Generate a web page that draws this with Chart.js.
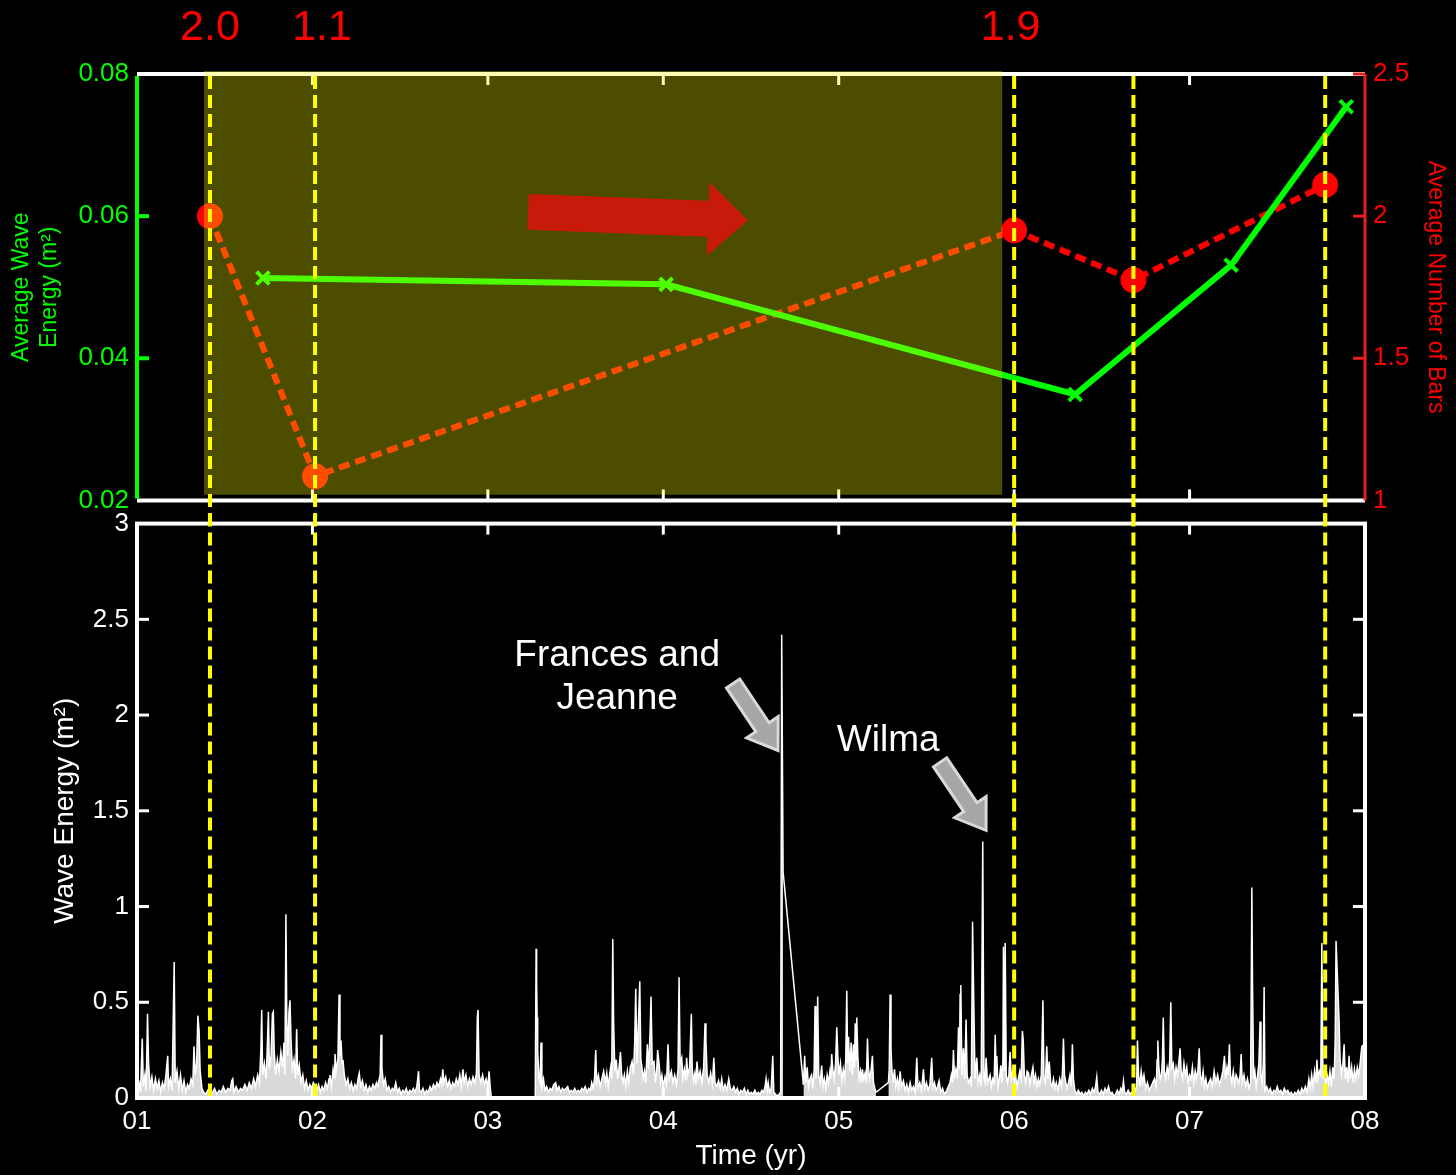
<!DOCTYPE html>
<html>
<head>
<meta charset="utf-8">
<script src="https://cdn.jsdelivr.net/npm/chart.js@4.4.0/dist/chart.umd.min.js"></script>
<style>
body{margin:0;background:#000;width:1456px;height:1175px;overflow:hidden;position:relative}
canvas{position:absolute;left:0}
#top-chart{top:0}
#wave-chart{top:500px}
</style>
</head>
<body>
<canvas id="top-chart" width="1456" height="524"></canvas>
<canvas id="wave-chart" width="1456" height="675"></canvas>
<script>
// survey dates (yr) and their averages
const surveyYears = [1.416, 2.015, 6.0, 6.68, 7.773];
const avgBars = [2.0, 1.085, 1.95, 1.775, 2.11];
const energyYears = [1.718, 4.016, 6.348, 7.237, 7.893];
const avgEnergy = [0.0513, 0.0504, 0.0349, 0.0531, 0.0754];
const barLabels = ["2.0", "1.1", "1.9"];
const barLabelYears = [1.416, 2.055, 5.98];
const shadeYears = [1.382, 5.932];
const yearTicks = [1, 2, 3, 4, 5, 6, 7, 8];
const energyTicks = [0, 0.5, 1, 1.5, 2, 2.5, 3];

// wave energy record, [year, m2]
const energy01 = [[1.000,0.05],[1.012,0.08],[1.020,0.03],[1.030,0.31],[1.036,0.06],[1.045,0.12],[1.052,0.04],[1.060,0.44],[1.066,0.18],[1.075,0.06],[1.085,0.11],[1.095,0.04],[1.105,0.10],[1.115,0.05],[1.125,0.09],[1.135,0.03],[1.145,0.08],[1.155,0.05],[1.165,0.12],[1.175,0.22],[1.180,0.06],[1.190,0.10],[1.200,0.04],[1.212,0.71],[1.218,0.08],[1.228,0.14],[1.238,0.05],[1.248,0.12],[1.258,0.04],[1.268,0.09],[1.278,0.03],[1.288,0.07],[1.298,0.05],[1.308,0.10],[1.318,0.07],[1.325,0.27],[1.332,0.12],[1.340,0.18],[1.347,0.43],[1.354,0.35],[1.360,0.14],[1.370,0.05],[1.380,0.03],[1.392,0.02],[1.404,0.04],[1.416,0.02],
  [1.430,0.03],[1.442,0.05],[1.455,0.02],[1.468,0.04],[1.480,0.03],[1.492,0.06],[1.505,0.03],[1.518,0.05],[1.530,0.04],[1.540,0.09],[1.546,0.10],[1.552,0.03],[1.565,0.06],[1.578,0.03],[1.590,0.05],[1.602,0.04],[1.615,0.07],[1.628,0.04],[1.640,0.08],[1.652,0.05],[1.665,0.10],[1.675,0.06],[1.688,0.12],[1.698,0.08],[1.706,0.25],[1.711,0.46],[1.716,0.12],[1.726,0.18],[1.736,0.10],[1.744,0.30],[1.749,0.45],[1.755,0.15],[1.764,0.22],[1.772,0.44],[1.777,0.45],[1.782,0.25],[1.790,0.12],[1.800,0.20],[1.810,0.14],[1.820,0.24],[1.830,0.16],[1.838,0.29],[1.843,0.12],[1.849,0.96],[1.854,0.40],[1.860,0.22],[1.866,0.45],[1.872,0.51],[1.878,0.30],[1.886,0.15],[1.895,0.20],[1.904,0.10],[1.910,0.36],[1.916,0.12],[1.925,0.17],[1.935,0.08],[1.945,0.12],[1.955,0.05],[1.965,0.09],[1.975,0.04],[1.985,0.07],[1.995,0.05]];
const energy02 = [[2.005,0.08],[2.015,0.06],[2.025,0.04],[2.035,0.07],[2.045,0.03],[2.055,0.06],[2.065,0.04],[2.075,0.08],[2.085,0.05],[2.095,0.10],[2.100,0.12],[2.108,0.06],[2.118,0.15],[2.126,0.10],[2.129,0.23],[2.135,0.14],[2.145,0.20],[2.152,0.54],[2.157,0.22],[2.163,0.30],[2.169,0.18],[2.174,0.20],[2.182,0.12],[2.192,0.07],[2.202,0.10],[2.212,0.05],[2.222,0.08],[2.232,0.04],[2.242,0.07],[2.252,0.05],[2.262,0.11],[2.267,0.13],[2.275,0.06],[2.285,0.09],[2.295,0.04],[2.305,0.07],[2.315,0.03],[2.325,0.06],[2.335,0.04],[2.345,0.07],[2.355,0.05],[2.365,0.08],[2.372,0.06],[2.386,0.12],[2.391,0.33],[2.396,0.16],[2.405,0.07],[2.415,0.10],[2.425,0.04],[2.435,0.06],[2.445,0.03],[2.455,0.05],[2.465,0.04],[2.475,0.08],[2.485,0.03],[2.495,0.05],[2.505,0.02],[2.515,0.04],[2.525,0.03],[2.535,0.05],[2.545,0.02],[2.555,0.04],[2.565,0.03],[2.575,0.05],[2.585,0.03],[2.595,0.06],[2.605,0.14],[2.610,0.04],[2.620,0.03],[2.630,0.05],[2.640,0.02],[2.650,0.04],[2.660,0.03],[2.670,0.06],[2.680,0.04],[2.690,0.07],[2.700,0.05],[2.710,0.08],[2.720,0.06],[2.730,0.10],[2.737,0.07],[2.743,0.15],[2.750,0.08],[2.760,0.11],[2.770,0.06],[2.780,0.09],[2.790,0.05],[2.800,0.08],[2.810,0.06],[2.820,0.10],[2.830,0.07],[2.840,0.12],[2.848,0.06],[2.858,0.15],[2.865,0.08],[2.875,0.12],[2.885,0.06],[2.895,0.10],[2.905,0.07],[2.915,0.11],[2.925,0.08],[2.935,0.13],[2.940,0.42],[2.944,0.46],[2.950,0.12],[2.960,0.08],[2.970,0.12],[2.980,0.07],[2.990,0.10]];
const energy03 = [[3.000,0.06],[3.007,0.14],[3.014,0.05],[3.020,0.00],[3.270,0.00],[3.275,0.78],[3.278,0.60],[3.281,0.42],[3.284,0.24],[3.292,0.10],[3.298,0.08],[3.303,0.29],[3.308,0.06],[3.317,0.10],[3.325,0.04],[3.335,0.06],[3.345,0.03],[3.355,0.05],[3.365,0.04],[3.375,0.07],[3.387,0.08],[3.395,0.04],[3.405,0.06],[3.415,0.03],[3.425,0.05],[3.435,0.04],[3.445,0.05],[3.455,0.06],[3.465,0.03],[3.475,0.04],[3.485,0.03],[3.495,0.05],[3.505,0.03],[3.515,0.04],[3.525,0.03],[3.535,0.05],[3.545,0.04],[3.555,0.06],[3.565,0.03],[3.575,0.05],[3.585,0.04],[3.592,0.08],[3.600,0.05],[3.608,0.10],[3.615,0.25],[3.620,0.08],[3.630,0.12],[3.640,0.06],[3.650,0.10],[3.660,0.14],[3.670,0.08],[3.678,0.13],[3.686,0.06],[3.694,0.12],[3.700,0.16],[3.706,0.10],[3.712,0.83],[3.717,0.39],[3.724,0.14],[3.732,0.20],[3.740,0.10],[3.748,0.16],[3.756,0.24],[3.762,0.13],[3.770,0.08],[3.778,0.12],[3.786,0.06],[3.795,0.14],[3.803,0.08],[3.812,0.16],[3.822,0.19],[3.830,0.12],[3.837,0.29],[3.843,0.57],[3.850,0.18],[3.858,0.39],[3.866,0.61],[3.872,0.20],[3.877,0.17],[3.885,0.10],[3.893,0.14],[3.900,0.08],[3.909,0.28],[3.916,0.15],[3.925,0.35],[3.930,0.53],[3.937,0.18],[3.947,0.19],[3.955,0.08],[3.962,0.14],[3.968,0.25],[3.976,0.18],[3.984,0.08],[3.992,0.12]];
const energy04 = [[4.000,0.06],[4.010,0.11],[4.018,0.07],[4.027,0.28],[4.034,0.10],[4.046,0.14],[4.055,0.08],[4.065,0.12],[4.075,0.07],[4.084,0.15],[4.090,0.63],[4.096,0.18],[4.105,0.21],[4.112,0.10],[4.120,0.15],[4.128,0.09],[4.133,0.21],[4.140,0.12],[4.150,0.16],[4.160,0.44],[4.165,0.15],[4.172,0.09],[4.180,0.13],[4.186,0.07],[4.192,0.19],[4.200,0.10],[4.210,0.14],[4.220,0.08],[4.230,0.16],[4.238,0.39],[4.243,0.30],[4.250,0.12],[4.260,0.08],[4.270,0.13],[4.280,0.07],[4.288,0.21],[4.295,0.08],[4.305,0.06],[4.315,0.09],[4.325,0.05],[4.333,0.10],[4.342,0.04],[4.352,0.07],[4.362,0.04],[4.373,0.10],[4.382,0.05],[4.392,0.04],[4.402,0.06],[4.412,0.03],[4.422,0.05],[4.432,0.02],[4.442,0.04],[4.452,0.03],[4.462,0.05],[4.472,0.02],[4.482,0.04],[4.492,0.02],[4.502,0.03],[4.512,0.02],[4.522,0.04],[4.532,0.02],[4.542,0.03],[4.552,0.02],[4.562,0.04],[4.572,0.03],[4.580,0.06],[4.586,0.10],[4.592,0.04],[4.598,0.08],[4.606,0.03],[4.615,0.05],[4.624,0.22],[4.630,0.03],[4.640,0.02],[4.650,0.01],[4.660,0.02],[4.669,0.03],[4.675,2.42],[4.683,1.18],[4.799,0.07],
  [4.806,0.22],[4.812,0.08],[4.820,0.16],[4.828,0.06],[4.836,0.10],[4.845,0.12],[4.852,0.05],[4.860,0.15],[4.865,0.48],[4.870,0.10],[4.876,0.20],[4.880,0.53],[4.886,0.12],[4.894,0.08],[4.903,0.17],[4.910,0.06],[4.918,0.10],[4.926,0.05],[4.934,0.12],[4.942,0.08],[4.950,0.14],[4.955,0.10],[4.960,0.23],[4.966,0.15],[4.974,0.10],[4.982,0.18],[4.989,0.37],[4.995,0.22]];
const energy05 = [[5.002,0.12],[5.010,0.18],[5.018,0.09],[5.026,0.15],[5.034,0.10],[5.040,0.20],[5.046,0.56],[5.051,0.18],[5.056,0.32],[5.063,0.14],[5.071,0.29],[5.078,0.12],[5.084,0.28],[5.090,0.16],[5.094,0.39],[5.099,0.20],[5.103,0.42],[5.109,0.22],[5.116,0.10],[5.124,0.14],[5.130,0.08],[5.135,0.15],[5.142,0.10],[5.150,0.13],[5.157,0.08],[5.164,0.31],[5.169,0.16],[5.176,0.10],[5.184,0.14],[5.192,0.22],[5.198,0.08],[5.206,0.05],[5.213,0.03],[5.283,0.08],[5.288,0.15],[5.293,0.54],[5.298,0.26],[5.303,0.15],[5.310,0.08],[5.318,0.15],[5.326,0.06],[5.334,0.10],[5.342,0.05],[5.350,0.14],[5.358,0.06],[5.369,0.09],[5.378,0.04],[5.388,0.07],[5.397,0.03],[5.407,0.08],[5.416,0.04],[5.426,0.06],[5.436,0.03],[5.445,0.21],[5.452,0.05],[5.462,0.08],[5.472,0.04],[5.483,0.15],[5.490,0.05],[5.500,0.08],[5.510,0.04],[5.520,0.07],[5.530,0.21],[5.537,0.05],[5.546,0.08],[5.555,0.04],[5.564,0.06],[5.572,0.09],[5.582,0.03],[5.592,0.05],[5.602,0.02],[5.610,0.03],[5.616,0.04],[5.625,0.06],[5.634,0.08],[5.642,0.12],[5.648,0.08],[5.654,0.25],[5.660,0.10],[5.668,0.15],[5.676,0.12],[5.683,0.37],[5.688,0.15],[5.692,0.54],[5.696,0.59],[5.702,0.12],[5.711,0.26],[5.718,0.10],[5.726,0.41],[5.732,0.12],[5.740,0.08],[5.749,0.10],[5.756,0.06],[5.763,0.92],[5.770,0.50],[5.777,0.10],[5.787,0.21],[5.795,0.08],[5.804,0.12],[5.812,0.06],[5.821,1.34],[5.828,0.10],[5.834,0.08],[5.840,0.21],[5.848,0.08],[5.856,0.10],[5.863,0.12],[5.870,0.06],[5.878,0.10],[5.886,0.08],[5.892,0.33],[5.897,0.12],[5.901,0.22],[5.908,0.06],[5.916,0.10],[5.924,0.17],[5.930,0.08],[5.936,0.20],[5.939,0.79],[5.944,0.14],[5.949,0.81],[5.955,0.12],[5.962,0.08],[5.970,0.12],[5.977,0.24],[5.984,0.10],[5.992,0.14]];
const energy06 = [[6.000,0.08],[6.008,0.12],[6.016,0.06],[6.024,0.10],[6.032,0.14],[6.040,0.10],[6.047,0.35],[6.052,0.30],[6.058,0.12],[6.066,0.08],[6.074,0.14],[6.082,0.13],[6.090,0.07],[6.098,0.12],[6.107,0.16],[6.114,0.08],[6.122,0.12],[6.130,0.06],[6.138,0.10],[6.146,0.07],[6.155,0.12],[6.164,0.51],[6.170,0.10],[6.178,0.08],[6.186,0.27],[6.192,0.10],[6.200,0.19],[6.208,0.08],[6.216,0.06],[6.224,0.10],[6.232,0.05],[6.240,0.08],[6.250,0.04],[6.260,0.10],[6.270,0.06],[6.276,0.15],[6.281,0.31],[6.287,0.12],[6.295,0.08],[6.302,0.05],[6.310,0.08],[6.318,0.12],[6.326,0.06],[6.332,0.28],[6.338,0.10],[6.346,0.04],[6.356,0.02],[6.366,0.04],[6.376,0.02],[6.386,0.03],[6.396,0.01],[6.406,0.03],[6.416,0.02],[6.426,0.04],[6.436,0.02],[6.446,0.05],[6.456,0.03],[6.464,0.06],[6.471,0.11],[6.478,0.03],[6.488,0.02],[6.498,0.04],[6.508,0.02],[6.518,0.05],[6.528,0.03],[6.538,0.06],[6.548,0.02],[6.558,0.03],[6.568,0.01],[6.578,0.02],[6.588,0.04],[6.598,0.02],[6.608,0.05],[6.616,0.03],[6.623,0.09],[6.630,0.03],[6.640,0.02],[6.650,0.04],[6.660,0.02],[6.670,0.03],[6.680,0.02],[6.690,0.04],[6.698,0.06],[6.703,0.30],[6.709,0.12],[6.716,0.06],[6.724,0.14],[6.732,0.08],[6.740,0.12],[6.750,0.05],[6.760,0.08],[6.770,0.04],[6.780,0.06],[6.790,0.08],[6.800,0.10],[6.810,0.06],[6.815,0.20],[6.819,0.30],[6.825,0.16],[6.833,0.10],[6.840,0.12],[6.845,0.20],[6.850,0.42],[6.856,0.14],[6.864,0.10],[6.872,0.16],[6.880,0.12],[6.887,0.20],[6.893,0.50],[6.899,0.16],[6.907,0.18],[6.915,0.10],[6.923,0.16],[6.931,0.12],[6.938,0.18],[6.946,0.26],[6.952,0.14],[6.960,0.10],[6.968,0.18],[6.976,0.12],[6.984,0.16],[6.992,0.08]];
const energy07 = [[7.000,0.12],[7.008,0.10],[7.016,0.16],[7.024,0.08],[7.032,0.14],[7.040,0.10],[7.048,0.15],[7.055,0.26],[7.061,0.12],[7.069,0.08],[7.077,0.14],[7.085,0.06],[7.093,0.10],[7.101,0.05],[7.110,0.08],[7.120,0.10],[7.130,0.06],[7.140,0.14],[7.150,0.08],[7.160,0.12],[7.170,0.07],[7.180,0.10],[7.190,0.14],[7.199,0.22],[7.205,0.10],[7.213,0.16],[7.220,0.12],[7.227,0.28],[7.233,0.12],[7.241,0.08],[7.249,0.14],[7.257,0.07],[7.265,0.12],[7.273,0.10],[7.281,0.08],[7.288,0.12],[7.294,0.23],[7.300,0.08],[7.310,0.12],[7.320,0.06],[7.330,0.10],[7.340,0.05],[7.348,0.08],[7.355,1.10],[7.359,0.59],[7.365,0.10],[7.372,0.14],[7.380,0.06],[7.388,0.12],[7.395,0.18],[7.402,0.40],[7.407,0.12],[7.414,0.08],[7.420,0.18],[7.425,0.58],[7.430,0.04],[7.440,0.06],[7.450,0.03],[7.460,0.05],[7.470,0.02],[7.480,0.04],[7.490,0.03],[7.500,0.06],[7.510,0.03],[7.520,0.04],[7.530,0.02],[7.540,0.05],[7.550,0.03],[7.560,0.04],[7.570,0.02],[7.580,0.03],[7.590,0.01],[7.600,0.03],[7.610,0.02],[7.620,0.04],[7.630,0.02],[7.640,0.05],[7.650,0.03],[7.660,0.06],[7.670,0.03],[7.680,0.10],[7.688,0.05],[7.696,0.12],[7.704,0.06],[7.712,0.14],[7.720,0.08],[7.726,0.20],[7.732,0.10],[7.740,0.14],[7.748,0.12],[7.754,0.81],[7.760,0.10],[7.768,0.14],[7.776,0.06],[7.784,0.12],[7.792,0.08],[7.800,0.14],[7.808,0.06],[7.816,0.16],[7.824,0.10],[7.830,0.30],[7.835,0.82],[7.842,0.65],[7.852,0.41],[7.858,0.20],[7.866,0.12],[7.874,0.18],[7.881,0.28],[7.888,0.10],[7.895,0.16],[7.902,0.08],[7.909,0.22],[7.916,0.10],[7.924,0.16],[7.932,0.08],[7.940,0.15],[7.948,0.10],[7.956,0.16],[7.964,0.12],[7.972,0.18],[7.982,0.27],[7.995,0.28]];

Chart.defaults.font.family = '"Liberation Sans", Arial, sans-serif';
const FONT = '"Liberation Sans", Arial, sans-serif';
const plainNumber = v => String(parseFloat(Number(v).toFixed(3)));

function seg(ctx, x1, y1, x2, y2) {
  ctx.beginPath();
  ctx.moveTo(x1, y1);
  ctx.lineTo(x2, y2);
  ctx.stroke();
}

// block arrow from (x1,y1) to the tip (x2,y2)
function fatArrow(ctx, x1, y1, x2, y2, body, head, headLen, fill, stroke) {
  const ang = Math.atan2(y2 - y1, x2 - x1);
  const len = Math.hypot(x2 - x1, y2 - y1);
  ctx.save();
  ctx.translate(x1, y1);
  ctx.rotate(ang);
  ctx.beginPath();
  ctx.moveTo(0, -body);
  ctx.lineTo(len - headLen, -body);
  ctx.lineTo(len - headLen, -head);
  ctx.lineTo(len, 0);
  ctx.lineTo(len - headLen, head);
  ctx.lineTo(len - headLen, body);
  ctx.lineTo(0, body);
  ctx.closePath();
  ctx.fillStyle = fill;
  ctx.fill();
  if (stroke) {
    ctx.strokeStyle = stroke;
    ctx.lineWidth = 3;
    ctx.setLineDash([]);
    ctx.stroke();
  }
  ctx.restore();
}

const topDecor = {
  id: 'topDecor',
  afterDraw(chart) {
    const {ctx, chartArea: a, scales: {x, y, y1}} = chart;
    ctx.save();
    ctx.setLineDash([]);
    ctx.strokeStyle = '#ffffff';
    ctx.lineWidth = 4;
    seg(ctx, a.left, a.top, a.right, a.top);
    seg(ctx, a.left, a.bottom, a.right, a.bottom);
    ctx.lineWidth = 3;
    yearTicks.slice(1, -1).forEach(t => {
      const px = x.getPixelForValue(t);
      seg(ctx, px, a.top, px, a.top + 11);
      seg(ctx, px, a.bottom, px, a.bottom - 11);
    });
    ctx.strokeStyle = '#00ff00';
    ctx.lineWidth = 4;
    seg(ctx, a.left, a.top + 2, a.left, a.bottom - 2);
    [0.04, 0.06].forEach(v => {
      const py = y.getPixelForValue(v);
      seg(ctx, a.left, py, a.left + 12, py);
    });
    ctx.strokeStyle = '#e8201c';
    ctx.lineWidth = 3;
    seg(ctx, a.right, a.top, a.right, a.bottom);
    [1.5, 2, 2.5].forEach(v => {
      const py = y1.getPixelForValue(v);
      seg(ctx, a.right, py, a.right - 12, py);
    });

    // survey dates
    ctx.strokeStyle = '#ffff00';
    ctx.lineWidth = 4;
    ctx.setLineDash([13, 6]);
    surveyYears.forEach(t => {
      const px = x.getPixelForValue(t);
      seg(ctx, px, a.top + 2, px, a.bottom + 20);
    });
    ctx.setLineDash([]);

    // highlighted period
    const sx0 = x.getPixelForValue(shadeYears[0]);
    const sx1 = x.getPixelForValue(shadeYears[1]);
    const sy1 = y.getPixelForValue(0.0208);
    ctx.fillStyle = 'rgba(255,255,0,0.3)';
    ctx.fillRect(sx0, a.top - 3, sx1 - sx0, sy1 - (a.top - 3));

    fatArrow(ctx, x.getPixelForValue(3.229), y.getPixelForValue(0.0606),
      x.getPixelForValue(4.483), y.getPixelForValue(0.0594), 18, 37, 40, '#c81a0a');

    ctx.fillStyle = '#ff0000';
    ctx.font = '43px ' + FONT;
    ctx.textAlign = 'center';
    ctx.textBaseline = 'middle';
    barLabels.forEach((s, i) => {
      ctx.fillText(s, x.getPixelForValue(barLabelYears[i]), a.top - 46);
    });
    ctx.restore();
  }
};

const waveDecor = {
  id: 'waveDecor',
  afterDraw(chart) {
    const {ctx, chartArea: a, scales: {x, y}} = chart;
    ctx.save();
    ctx.setLineDash([]);
    ctx.strokeStyle = '#ffffff';
    ctx.lineWidth = 4;
    ctx.strokeRect(a.left, a.top, a.right - a.left, a.bottom - a.top);
    ctx.lineWidth = 3;
    yearTicks.slice(1, -1).forEach(t => {
      const px = x.getPixelForValue(t);
      seg(ctx, px, a.top, px, a.top + 11);
      seg(ctx, px, a.bottom, px, a.bottom - 11);
    });
    energyTicks.slice(1, -1).forEach(v => {
      const py = y.getPixelForValue(v);
      seg(ctx, a.left, py, a.left + 12, py);
      seg(ctx, a.right, py, a.right - 12, py);
    });

    ctx.strokeStyle = '#ffff00';
    ctx.lineWidth = 4;
    ctx.setLineDash([13, 6]);
    surveyYears.forEach(t => {
      const px = x.getPixelForValue(t);
      seg(ctx, px, a.top - 10, px, a.bottom - 2);
    });
    ctx.setLineDash([]);

    fatArrow(ctx, x.getPixelForValue(4.398), y.getPixelForValue(2.165),
      x.getPixelForValue(4.654), y.getPixelForValue(1.815), 8, 19, 28, '#a6a6a6', '#d9d9d9');
    fatArrow(ctx, x.getPixelForValue(5.578), y.getPixelForValue(1.753),
      x.getPixelForValue(5.840), y.getPixelForValue(1.398), 8, 19, 28, '#a6a6a6', '#d9d9d9');

    ctx.fillStyle = '#ffffff';
    ctx.font = '37px ' + FONT;
    ctx.textAlign = 'center';
    ctx.textBaseline = 'middle';
    ctx.fillText('Frances and', x.getPixelForValue(3.737), y.getPixelForValue(2.311));
    ctx.fillText('Jeanne', x.getPixelForValue(3.737), y.getPixelForValue(2.087));
    ctx.fillText('Wilma', x.getPixelForValue(5.282), y.getPixelForValue(1.868));
    ctx.restore();
  }
};

const topChart = new Chart(document.getElementById('top-chart'), {
  type: 'line',
  data: {
    datasets: [
      {
        label: 'Average Wave Energy',
        data: energyYears.map((t, i) => ({x: t, y: avgEnergy[i]})),
        yAxisID: 'y',
        borderColor: '#00ff00',
        borderWidth: 6,
        pointStyle: 'crossRot',
        pointRadius: 9,
        pointBorderWidth: 4,
        pointBorderColor: '#00ff00',
        order: 0
      },
      {
        label: 'Average Number of Bars',
        data: surveyYears.map((t, i) => ({x: t, y: avgBars[i]})),
        yAxisID: 'y1',
        borderColor: '#ff0000',
        borderWidth: 6,
        borderDash: [11, 6],
        pointStyle: 'circle',
        pointRadius: 10,
        pointBackgroundColor: '#ff0000',
        pointBorderColor: '#ff0000',
        order: 1
      }
    ]
  },
  options: {
    responsive: false,
    animation: false,
    devicePixelRatio: 1,
    layout: {padding: {top: 74, bottom: 12, left: 0, right: 0}},
    plugins: {legend: {display: false}, tooltip: {enabled: false}},
    scales: {
      x: {type: 'linear', min: 1, max: 8, display: false},
      y: {
        position: 'left', min: 0.02, max: 0.08,
        ticks: {stepSize: 0.02, color: '#00ff00', font: {size: 26}, padding: 8, callback: plainNumber},
        grid: {display: false, drawTicks: false},
        border: {display: false},
        title: {display: true, text: ['Average Wave', 'Energy (m²)'], color: '#00ff00',
          font: {size: 23, lineHeight: 1.2}, padding: {top: 8, bottom: 0}},
        afterFit: s => { s.width = 137; }
      },
      y1: {
        position: 'right', min: 1, max: 2.5,
        ticks: {stepSize: 0.5, color: '#ff0000', font: {size: 26}, padding: 8, callback: plainNumber},
        grid: {display: false, drawTicks: false},
        border: {display: false},
        title: {display: true, text: 'Average Number of Bars', color: '#ff0000',
          font: {size: 23}, padding: {top: 7, bottom: 0}},
        afterFit: s => { s.width = 91; }
      }
    }
  },
  plugins: [topDecor]
});

const waveSeries = [].concat(energy01, energy02, energy03, energy04, energy05, energy06, energy07)
  .map(p => ({x: p[0], y: p[1]}));

const waveChart = new Chart(document.getElementById('wave-chart'), {
  type: 'line',
  data: {
    datasets: [{
      label: 'Wave Energy',
      data: waveSeries,
      borderColor: '#ffffff',
      borderWidth: 1.5,
      pointRadius: 0,
      fill: 'origin',
      backgroundColor: 'rgba(255,255,255,0.85)',
      // no fill under the long straight joins across record gaps
      segment: {
        backgroundColor: c => (c.p1.parsed.x - c.p0.parsed.x > 0.05 ? 'rgba(0,0,0,0)' : undefined)
      },
      tension: 0
    }]
  },
  options: {
    responsive: false,
    animation: false,
    devicePixelRatio: 1,
    layout: {padding: {top: 11, right: 91, left: 0, bottom: 0}},
    plugins: {legend: {display: false}, tooltip: {enabled: false}},
    scales: {
      x: {
        type: 'linear', min: 1, max: 8,
        ticks: {stepSize: 1, color: '#ffffff', font: {size: 26}, padding: 8, callback: v => '0' + v},
        grid: {display: false, drawTicks: false},
        border: {display: false},
        title: {display: true, text: 'Time (yr)', color: '#ffffff', font: {size: 28}, padding: {top: 0, bottom: 2}},
        afterFit: s => { s.height = 77; }
      },
      y: {
        min: 0, max: 3,
        ticks: {stepSize: 0.5, color: '#ffffff', font: {size: 26}, padding: 8, callback: plainNumber},
        grid: {display: false, drawTicks: false},
        border: {display: false},
        title: {display: true, text: 'Wave Energy (m²)', color: '#ffffff', font: {size: 28}, padding: {top: 48, bottom: 0}},
        afterFit: s => { s.width = 137; }
      }
    }
  },
  plugins: [waveDecor]
});
</script>
</body>
</html>
